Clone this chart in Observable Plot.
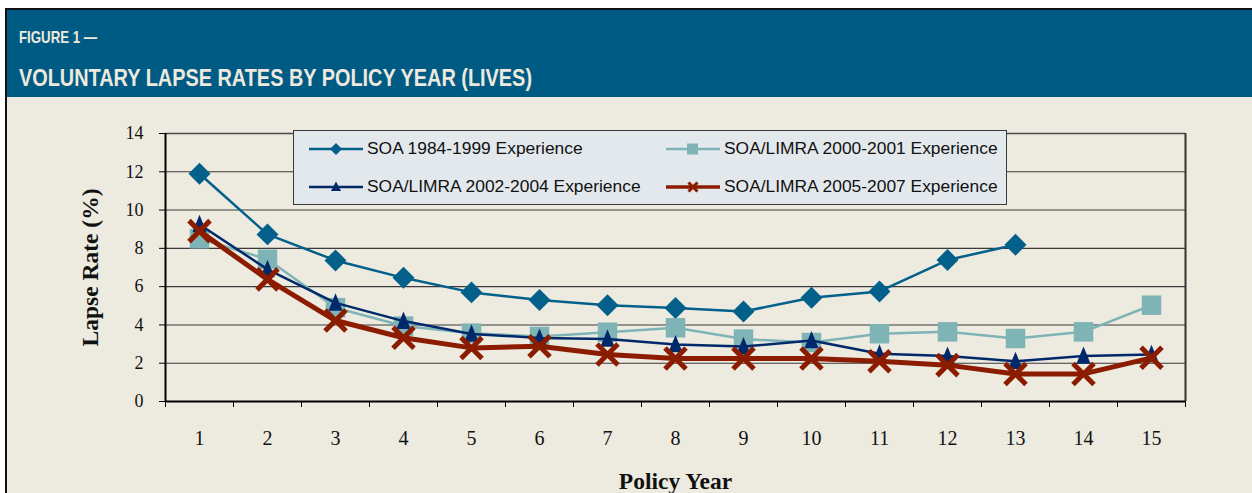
<!DOCTYPE html>
<html><head><meta charset="utf-8">
<script src="https://cdn.jsdelivr.net/npm/d3@7"></script>
<script src="https://cdn.jsdelivr.net/npm/@observablehq/plot@0.6"></script>
<style>
html,body{margin:0;padding:0;background:#fff;overflow:hidden;width:1252px;height:493px;}
#panel{position:absolute;left:5px;top:8px;width:1300px;height:600px;border-left:2px solid #111;border-top:2px solid #111;background:#edeae0;}
#header{position:relative;height:87px;background:#005b84;}
.ht{position:absolute;left:12px;color:#eee9de;font-family:"Liberation Sans Narrow","Liberation Sans",Arial,sans-serif;font-weight:bold;white-space:nowrap;transform-origin:0 0;display:inline-block;}
#fig{top:18.6px;font-size:17px;line-height:17px;}
#title{top:56px;font-size:24.5px;line-height:24.5px;}
#chart{position:relative;}
#legend{position:absolute;left:286px;top:33px;width:712px;height:73px;background:#e3e8ec;border:1px solid #3a3a3a;}
.entry{position:absolute;height:24px;display:flex;align-items:center;font-family:"Liberation Sans",Arial,sans-serif;font-size:17.4px;color:#111;white-space:nowrap;}
.entry svg{display:block;margin-right:4px;}
</style></head>
<body>
<div id="panel">
  <div id="header">
    <span class="ht" id="fig">FIGURE 1 —</span>
    <span class="ht" id="title">VOLUNTARY LAPSE RATES BY POLICY YEAR (LIVES)</span>
  </div>
  <div id="chart"><div id="legend"></div></div>
</div>
<script>
// ---- data ----
const years = [1,2,3,4,5,6,7,8,9,10,11,12,13,14,15];
const yTicks = [0,2,4,6,8,10,12,14];
const seriesNames = ["SOA 1984-1999 Experience","SOA/LIMRA 2000-2001 Experience","SOA/LIMRA 2002-2004 Experience","SOA/LIMRA 2005-2007 Experience"];
const soa8499   = [11.9, 8.73, 7.37, 6.46, 5.7, 5.3, 5.03, 4.89, 4.7, 5.42, 5.75, 7.39, 8.19];
const limra0001 = [8.5, 7.43, 4.9, 3.94, 3.57, 3.4, 3.62, 3.85, 3.26, 3.08, 3.54, 3.64, 3.29, 3.64, 5.03];
const limra0204 = [9.25, 6.9, 5.15, 4.2, 3.53, 3.32, 3.27, 2.98, 2.87, 3.19, 2.49, 2.38, 2.1, 2.38, 2.46];
const limra0507 = [8.9, 6.38, 4.23, 3.33, 2.8, 2.89, 2.46, 2.25, 2.25, 2.25, 2.1, 1.9, 1.44, 1.44, 2.28];
const xLabel = "Policy Year";
const yLabel = "Lapse Rate (%)";

const colors = ["#03608a", "#7fb4b7", "#00296b", "#8b1c00"];
const allSeries = [soa8499, limra0001, limra0204, limra0507];
const rows = [];
allSeries.forEach((vals, i) => vals.forEach((v, j) => rows.push({year: years[j], value: v, series: seriesNames[i]})));
const byS = i => rows.filter(d => d.series === seriesNames[i]);
const bounds = [0.5].concat(years.map(y => y + 0.5));

const tri = {draw(ctx, size) { const h = Math.sqrt(size), w = 0.82 * h;
  ctx.moveTo(0, -0.55*h); ctx.lineTo(w/2, 0.45*h); ctx.lineTo(-w/2, 0.45*h); ctx.closePath(); }};

const chart = Plot.plot({
  width: 1245, height: 396,
  marginLeft: 158, marginRight: 67, marginTop: 36, marginBottom: 92,
  style: {background: "transparent", fontFamily: "'Liberation Serif','Times New Roman',serif", color: "#111", overflow: "visible"},
  x: {type: "linear", domain: [0.5, 15.5], label: null},
  y: {domain: [0, 14], label: null},
  marks: [
    Plot.gridY(yTicks.filter(t => t > 0 && t < 14), {stroke: "#3a3a3a", strokeOpacity: 1, strokeWidth: 1.1}),
    Plot.ruleY([14], {stroke: "#4a4a4a", strokeWidth: 1.5}),
    Plot.ruleX([15.5], {stroke: "#333", strokeWidth: 2}),
    Plot.axisX({ticks: bounds, tickSize: 6, tickFormat: () => "", label: null, stroke: "#000"}),
    Plot.axisX({ticks: years, tickSize: 0, tickPadding: 29, fontSize: 20, tickFormat: d => String(d), label: null}),
    Plot.axisY({ticks: yTicks, tickSize: 6, tickPadding: 16, fontSize: 18, label: null, stroke: "#000"}),
    Plot.ruleX([0.5], {stroke: "#000", strokeWidth: 2}),
    Plot.ruleY([0], {stroke: "#000", strokeWidth: 2}),
    Plot.line(byS(0), {x: "year", y: "value", stroke: colors[0], strokeWidth: 2.5}),
    Plot.dot(byS(0), {x: "year", y: "value", symbol: "diamond2", r: 9.9, fill: colors[0], stroke: "none"}),
    Plot.line(byS(1), {x: "year", y: "value", stroke: colors[1], strokeWidth: 2.5}),
    Plot.dot(byS(1), {x: "year", y: "value", symbol: "square", r: 11, fill: colors[1], stroke: "none"}),
    Plot.line(byS(2), {x: "year", y: "value", stroke: colors[2], strokeWidth: 2.5}),
    Plot.dot(byS(2), {x: "year", y: "value", symbol: tri, r: 9.8, fill: colors[2], stroke: "none"}),
    Plot.line(byS(3), {x: "year", y: "value", stroke: colors[3], strokeWidth: 5, strokeLinejoin: "round"}),
    Plot.dot(byS(3), {x: "year", y: "value", symbol: "times", r: 9.6, fill: "none", stroke: colors[3], strokeWidth: 5}),
    Plot.text([yLabel], {text: d => d, frameAnchor: "left", dx: -75, rotate: -90, textAnchor: "middle", lineAnchor: "middle", fontSize: 23.5, fontWeight: "bold", fill: "#111"}),
    Plot.text([xLabel], {text: d => d, frameAnchor: "bottom", dy: 80, textAnchor: "middle", lineAnchor: "middle", fontSize: 23.5, fontWeight: "bold", fill: "#111"})
  ]
});
document.getElementById("chart").insertBefore(chart, document.getElementById("legend"));

// ---- legend ----
const swatch = [
  c => `<path d="M27,6 L33,12 L27,18 L21,12Z" fill="${c}"/>`,
  c => `<rect x="21" y="6.5" width="11" height="11" fill="${c}"/>`,
  c => `<path d="M27,6.5 L32,16 L22,16Z" fill="${c}"/>`,
  c => `<path d="M22.5,7.5 L31.5,16.5 M31.5,7.5 L22.5,16.5" stroke="${c}" stroke-width="3" fill="none"/>`
];
const lw = [2.5, 2.5, 2.5, 3.5];
const pos = [[15, 17.5], [372, 17.5], [15, 55.5], [372, 55.5]];
const legendOrder = [0, 1, 2, 3];
const leg = document.getElementById("legend");
legendOrder.forEach((i, k) => {
  const e = document.createElement("div");
  e.className = "entry";
  e.style.left = pos[k][0] + "px";
  e.style.top = (pos[k][1] - 12) + "px";
  e.innerHTML = `<svg width="54" height="24"><line x1="0" y1="12" x2="54" y2="12" stroke="${colors[i]}" stroke-width="${lw[i]}"/>${swatch[i](colors[i])}</svg><span>${seriesNames[i]}</span>`;
  leg.appendChild(e);
});

// ---- fit title widths ----
function fit(id, target) {
  const el = document.getElementById(id);
  const w = el.getBoundingClientRect().width;
  if (w > 0) el.style.transform = `scaleX(${target / w})`;
}
fit("fig", 78);
fit("title", 513);
</script>
</body></html>
